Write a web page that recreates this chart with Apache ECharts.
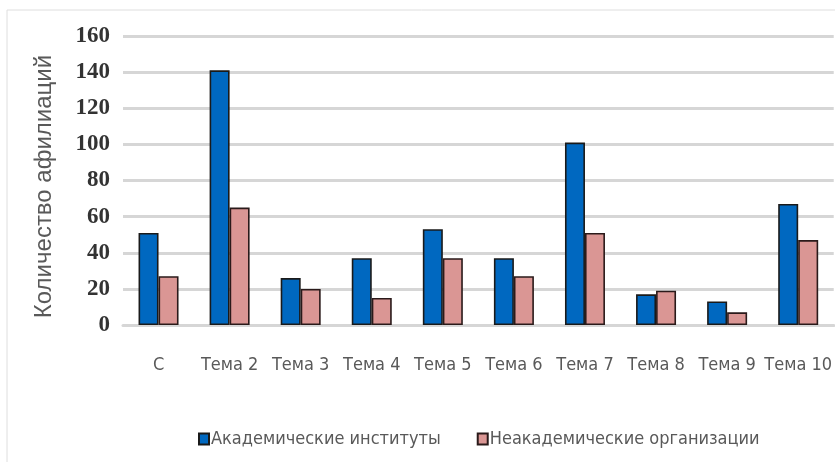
<!DOCTYPE html>
<html>
<head>
<meta charset="utf-8">
<script src="https://cdn.jsdelivr.net/npm/echarts@6/dist/echarts.min.js"></script>
<style>
  html, body { margin: 0; padding: 0; background: #ffffff; }
  #chart { width: 835px; height: 462px; }
</style>
</head>
<body>
<div id="chart"></div>
<script>
// Categories (topics) and affiliation counts per organisation type
const categories = ['С', 'Тема 2', 'Тема 3', 'Тема 4', 'Тема 5', 'Тема 6', 'Тема 7', 'Тема 8', 'Тема 9', 'Тема 10'];
const academic = [51, 141, 26, 37, 53, 37, 101, 17, 13, 67];
const nonAcademic = [27, 65, 20, 15, 37, 27, 51, 19, 7, 47];
const seriesNames = ['Академические институты', 'Неакадемические организации'];
const yTicks = { min: 0, max: 160, step: 20 };
const yTitle = 'Количество афилиаций';

const labelFont = '"DejaVu Sans Condensed", "Liberation Sans", sans-serif';

const chart = echarts.init(document.getElementById('chart'), null, { renderer: 'canvas' });

chart.setOption({
  backgroundColor: '#ffffff',
  animation: false,
  graphic: [{
    type: 'rect',
    shape: { x: 7, y: 10, width: 900, height: 500 },
    style: { fill: 'none', stroke: '#dedede', lineWidth: 1 },
    silent: true,
    z: -1
  }],
  grid: { left: 123, right: 0, top: 36, bottom: 137, containLabel: false },
  legend: {
    left: 193,
    top: 425,
    width: 640,
    itemWidth: 10,
    itemHeight: 11,
    itemGap: 36,
    icon: 'rect',
    textStyle: { fontFamily: labelFont, fontSize: 18, color: '#595959', padding: [0, 0, 0, -3] },
    data: seriesNames
  },
  xAxis: {
    type: 'category',
    data: categories,
    axisLine: { show: true, lineStyle: { color: '#d6d6d6', width: 3 } },
    axisTick: { show: false },
    axisLabel: { interval: 0, fontFamily: labelFont, fontSize: 18, color: '#595959', margin: 31 }
  },
  yAxis: {
    type: 'value',
    min: yTicks.min,
    max: yTicks.max,
    interval: yTicks.step,
    name: yTitle,
    nameLocation: 'middle',
    nameGap: 67,
    nameTextStyle: { fontFamily: '"Liberation Sans", Arial, sans-serif', fontSize: 24, color: '#595959', padding: [0, 12, 0, 0] },
    axisLine: { show: false },
    axisTick: { show: false },
    splitLine: { lineStyle: { color: '#d6d6d6', width: 3 } },
    axisLabel: { fontFamily: '"Liberation Serif", "Times New Roman", serif', fontWeight: 'bold', fontSize: 23, color: '#333333', margin: 13 }
  },
  series: [
    {
      name: seriesNames[0],
      type: 'bar',
      data: academic,
      barWidth: 20,
      barGap: '0%',
      itemStyle: { color: '#0068c0', borderColor: '#1a1a1a', borderWidth: 1.6 }
    },
    {
      name: seriesNames[1],
      type: 'bar',
      data: nonAcademic,
      barWidth: 20,
      barGap: '0%',
      itemStyle: { color: '#da9694', borderColor: '#2a1a1a', borderWidth: 1.6 }
    }
  ]
});
</script>
</body>
</html>
